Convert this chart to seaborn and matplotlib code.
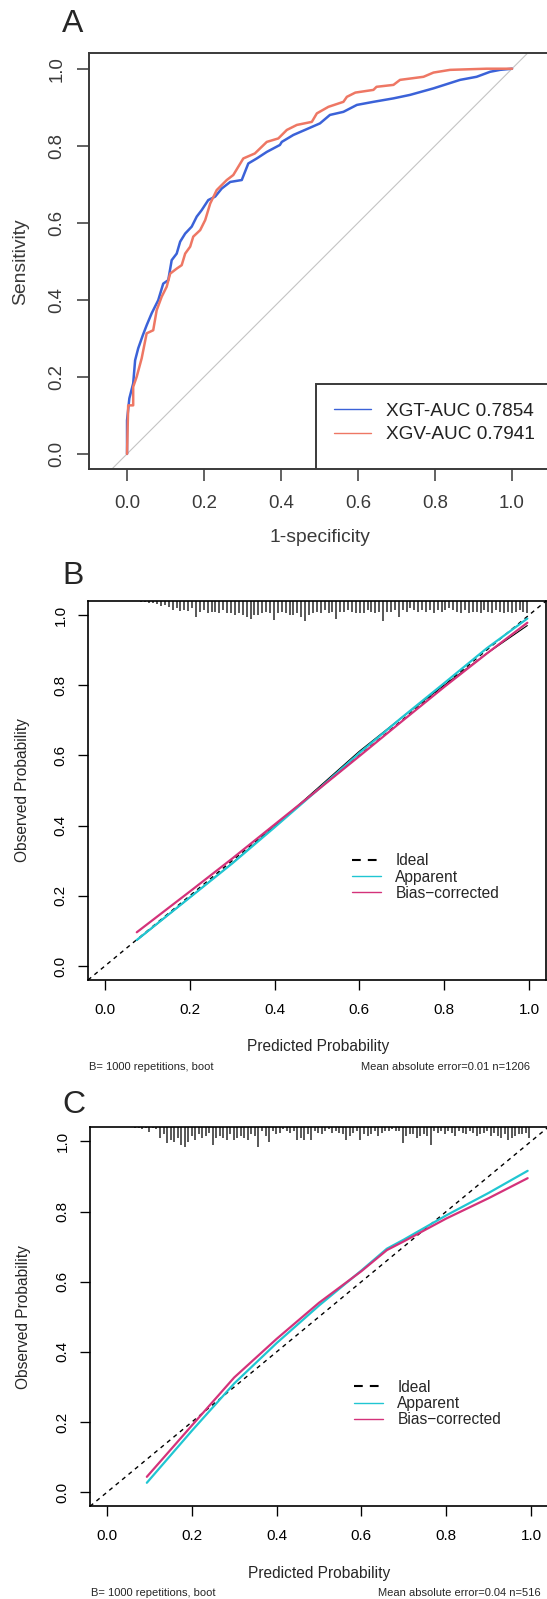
import numpy as np
import matplotlib
matplotlib.use("Agg")
import matplotlib.pyplot as plt
from matplotlib.lines import Line2D
from matplotlib.patches import Rectangle
import seaborn as sns

# ---------------- panel A : ROC curves ----------------
xgt_fpr = [0.0, 0.0, 0.006, 0.016, 0.021, 0.029, 0.041, 0.051, 0.064, 0.081, 0.094, 0.107,
           0.116, 0.129, 0.138, 0.151, 0.168, 0.181, 0.194, 0.211, 0.229, 0.246, 0.268,
           0.298, 0.315, 0.337, 0.363, 0.397, 0.402, 0.432, 0.462, 0.501, 0.527, 0.562,
           0.597, 0.64, 0.692, 0.735, 0.796, 0.865, 0.908, 0.943, 0.969, 1.0]
xgt_tpr = [0.0, 0.087, 0.144, 0.183, 0.243, 0.274, 0.308, 0.334, 0.365, 0.399, 0.442, 0.451,
           0.503, 0.52, 0.551, 0.572, 0.59, 0.616, 0.633, 0.659, 0.668, 0.689, 0.706,
           0.711, 0.754, 0.767, 0.784, 0.802, 0.81, 0.828, 0.841, 0.858, 0.88, 0.888,
           0.906, 0.914, 0.923, 0.932, 0.949, 0.971, 0.979, 0.992, 0.997, 1.0]
xgv_fpr = [0.0, 0.003, 0.016, 0.016, 0.025, 0.038, 0.051, 0.068, 0.077, 0.09, 0.103, 0.112,
           0.129, 0.142, 0.151, 0.164, 0.172, 0.19, 0.203, 0.216, 0.233, 0.259, 0.276,
           0.302, 0.332, 0.363, 0.393, 0.415, 0.441, 0.48, 0.493, 0.523, 0.562, 0.571,
           0.593, 0.64, 0.648, 0.692, 0.709, 0.77, 0.796, 0.839, 0.934, 1.0]
xgv_tpr = [0.0, 0.126, 0.126, 0.174, 0.2, 0.248, 0.313, 0.321, 0.373, 0.408, 0.434, 0.468,
           0.481, 0.49, 0.52, 0.538, 0.564, 0.581, 0.607, 0.65, 0.685, 0.711, 0.724,
           0.767, 0.78, 0.81, 0.819, 0.841, 0.854, 0.862, 0.884, 0.901, 0.914, 0.927,
           0.938, 0.945, 0.953, 0.958, 0.971, 0.979, 0.99, 0.997, 1.0, 1.0]
roc_labels = ["XGT-AUC 0.7854", "XGV-AUC 0.7941"]
roc_colors = ["#3b62d8", "#ee7764"]

# ---------------- panel B : calibration, training ----------------
b_app_x = [0.075, 0.2, 0.3, 0.4, 0.5, 0.6, 0.7, 0.8, 0.9, 0.996]
b_app_y = [0.074, 0.195, 0.292, 0.395, 0.5, 0.607, 0.708, 0.806, 0.905, 0.99]
b_bc_x = [0.075, 0.2, 0.3, 0.4, 0.5, 0.6, 0.7, 0.8, 0.9, 0.996]
b_bc_y = [0.096, 0.212, 0.306, 0.403, 0.5, 0.598, 0.697, 0.795, 0.89, 0.978]
b_raw_x = [0.075, 0.2, 0.3, 0.4, 0.5, 0.6, 0.7, 0.8, 0.9, 0.996]
b_raw_y = [0.073, 0.195, 0.293, 0.398, 0.505, 0.612, 0.708, 0.8, 0.89, 0.97]
b_rug = [3, 3, 5, 5, 8, 15, 12, 18, 25, 20,
         28, 25, 28, 20, 45, 30, 25, 35, 30, 30,
         35, 25, 35, 35, 40, 35, 40, 45, 50, 40,
         40, 35, 30, 35, 52, 35, 30, 35, 40, 40,
         35, 45, 55, 40, 35, 30, 35, 25, 35, 30,
         50, 30, 30, 25, 30, 35, 35, 35, 25, 30,
         35, 30, 55, 30, 30, 25, 45, 25, 30, 20,
         25, 30, 25, 30, 25, 35, 25, 30, 25, 20,
         25, 30, 35, 25, 35, 30, 30, 35, 25, 30,
         35, 25, 30, 35, 30, 35, 30, 25, 30, 35]
b_rug_range = (0.086, 0.996)
b_sub = ("B= 1000 repetitions, boot", "Mean absolute error=0.01 n=1206")

# ---------------- panel C : calibration, validation ----------------
c_app_x = [0.094, 0.2, 0.3, 0.4, 0.5, 0.6, 0.66, 0.7, 0.8, 0.9, 0.992]
c_app_y = [0.027, 0.175, 0.31, 0.425, 0.532, 0.632, 0.694, 0.72, 0.789, 0.853, 0.916]
c_bc_x = [0.094, 0.2, 0.3, 0.4, 0.5, 0.6, 0.66, 0.7, 0.8, 0.9, 0.992]
c_bc_y = [0.044, 0.19, 0.327, 0.437, 0.54, 0.63, 0.69, 0.715, 0.78, 0.838, 0.895]
c_rug = [3, 3, 5, 3, 12, 3, 5, 30, 20, 45,
         35, 40, 30, 50, 55, 40, 25, 35, 20, 30,
         25, 15, 50, 30, 25, 30, 35, 20, 35, 30,
         25, 30, 35, 20, 25, 55, 10, 25, 40, 10,
         20, 15, 5, 10, 15, 10, 35, 30, 35, 20,
         35, 10, 15, 20, 10, 5, 15, 10, 15, 20,
         35, 25, 15, 10, 35, 20, 25, 20, 10, 25,
         15, 10, 10, 5, 10, 10, 45, 25, 20, 20,
         30, 25, 20, 25, 50, 10, 15, 10, 20, 10,
         15, 25, 10, 15, 20, 10, 15, 25, 20, 15,
         10, 25, 15, 25, 30, 20, 35, 30, 25, 20,
         20, 15, 30]
c_rug_range = (0.067, 0.996)
c_sub = ("B= 1000 repetitions, boot", "Mean absolute error=0.04 n=516")

calib_labels = ["Ideal", "Apparent", "Bias\u2212corrected"]
calib_colors = ["black", "#20c6d2", "#d4327a"]
ticks = [0.0, 0.2, 0.4, 0.6, 0.8, 1.0]

sns.set_theme(style="white")
plt.rcParams["font.family"] = ["Liberation Sans", "DejaVu Sans"]
plt.rcParams["axes.unicode_minus"] = False

W, H = 547, 1599
fig = plt.figure(figsize=(W / 100, H / 100), dpi=100)
fig.patch.set_facecolor("white")


def box(left, top, right, bottom):
    return [left / W, 1 - bottom / H, (right - left) / W, (bottom - top) / H]


def style_axes(ax, fs, tick_len, xpad, ypad, col, lw):
    ax.set_xticks(ticks)
    ax.set_yticks(ticks)
    ax.set_xticklabels([f"{t:.1f}" for t in ticks])
    ax.set_yticklabels([f"{t:.1f}" for t in ticks])
    ax.tick_params(axis="both", direction="out", length=tick_len, width=lw * 0.8,
                   color=col, labelcolor=col, labelsize=fs, bottom=True, left=True)
    ax.tick_params(axis="x", pad=xpad)
    ax.tick_params(axis="y", pad=ypad)
    plt.setp(ax.get_yticklabels(), rotation=90, va="center")
    for s in ax.spines.values():
        s.set_color(col)
        s.set_linewidth(lw)


# ---- A ----
axA = fig.add_axes(box(89.3, 53.3, 569.8, 469.3))
axA.set_xlim(-0.098, 1.15)
axA.set_ylim(-0.04, 1.04)
axA.plot([-0.04, 1.04], [-0.04, 1.04], color="#c4c4c4", lw=0.8)
sns.lineplot(x=xgt_fpr, y=xgt_tpr, ax=axA, color=roc_colors[0], lw=1.8,
             sort=False, estimator=None)
sns.lineplot(x=xgv_fpr, y=xgv_tpr, ax=axA, color=roc_colors[1], lw=1.8,
             sort=False, estimator=None)
style_axes(axA, 13.4, 8.3, 10, 9, "#3a3a3a", 1.4)
axA.spines["right"].set_visible(False)
axA.add_patch(Rectangle((0.491, -0.04), 1.0, 0.221, facecolor="white",
                        edgecolor="#3a3a3a", lw=1.4, zorder=4))
hA = [Line2D([0], [0], color=c, lw=1.0) for c in roc_colors]
legA = axA.legend(hA, roc_labels, loc="upper left", bbox_to_anchor=(0.509, 0.16),
                  frameon=False, fontsize=13.7, handlelength=1.93, handletextpad=0.8,
                  labelspacing=0.32, borderpad=0, borderaxespad=0)
legA.set_zorder(5)
for t in legA.get_texts():
    t.set_color("#222222")
axA.set_xlabel("1-specificity", fontsize=13.9, color="#3a3a3a")
axA.set_ylabel("Sensitivity", fontsize=13.9, color="#3a3a3a")
axA.xaxis.set_label_coords((320 - 89.3) / 480.5, (469.3 - 537) / 416)
axA.yaxis.set_label_coords((20.7 - 89.3) / 480.5, 0.5)
axA.xaxis.label.set_va("center")
axA.yaxis.label.set_va("center")


# ---- B & C ----
def calib_panel(rect, app_x, app_y, bc_x, bc_y, rug, rug_range, raw=None):
    ax = fig.add_axes(rect)
    ax.set_xlim(-0.04, 1.04)
    ax.set_ylim(-0.04, 1.04)
    ax.plot([-0.04, 1.04], [-0.04, 1.04], color="black", lw=1.0, dashes=(3, 3))
    rug = np.asarray(rug, dtype=float)
    rx = np.linspace(rug_range[0], rug_range[1], len(rug))
    ax.vlines(rx, 1.04 - rug / 2.8 / 351.3, 1.04, color="#2a2a2a", lw=1.1)
    if raw is not None:
        sns.lineplot(x=raw[0], y=raw[1], ax=ax, color="black", lw=0.8,
                     sort=False, estimator=None)
    sns.lineplot(x=app_x, y=app_y, ax=ax, color=calib_colors[1], lw=1.6,
                 sort=False, estimator=None)
    sns.lineplot(x=bc_x, y=bc_y, ax=ax, color=calib_colors[2], lw=1.6,
                 sort=False, estimator=None)
    style_axes(ax, 11, 7.2, 9, 7.5, "black", 1.2)
    handles = [Line2D([0], [0], color="black", lw=1.5, dashes=(4.2, 3.4)),
               Line2D([0], [0], color=calib_colors[1], lw=1.0),
               Line2D([0], [0], color=calib_colors[2], lw=1.0)]
    ax.legend(handles, calib_labels, loc="upper left", bbox_to_anchor=(0.5764, 0.334),
              frameon=False, fontsize=11.2, handlelength=1.87, handletextpad=0.92,
              labelspacing=0.08, borderpad=0, borderaxespad=0)
    ax.set_xlabel("Predicted Probability", fontsize=11.2)
    ax.set_ylabel("Observed Probability", fontsize=11.2)
    return ax


axB = calib_panel(box(88, 601, 546, 980), b_app_x, b_app_y, b_bc_x, b_bc_y,
                  b_rug, b_rug_range, raw=(b_raw_x, b_raw_y))
axB.xaxis.set_label_coords((317.7 - 88) / 458, (980 - 1046.7) / 379)
axB.yaxis.set_label_coords((22.7 - 88) / 458, 0.5)
axC = calib_panel(box(90, 1127.3, 548, 1506.3), c_app_x, c_app_y, c_bc_x, c_bc_y,
                  c_rug, c_rug_range)
axC.xaxis.set_label_coords((319 - 90) / 458, (1506.3 - 1573.3) / 379)
axC.yaxis.set_label_coords((24 - 90) / 458, 0.5)
for ax in (axB, axC):
    ax.xaxis.label.set_va("center")
    ax.yaxis.label.set_va("center")

# subtitles
for (left, right), y, (xl, xr) in [(b_sub, 1066.7, (89, 530)), (c_sub, 1593, (90.7, 541))]:
    fig.text(xl / W, 1 - y / H, left, fontsize=8, ha="left", va="center")
    fig.text(xr / W, 1 - y / H, right, fontsize=8, ha="right", va="center")

# panel letters
for letter, (px, py) in zip("ABC", [(73, 24), (73, 576), (74, 1105)]):
    fig.text(px / W, 1 - py / H, letter, fontsize=23, ha="center", va="center")

fig.savefig("out.png", dpi=100, facecolor="white")
